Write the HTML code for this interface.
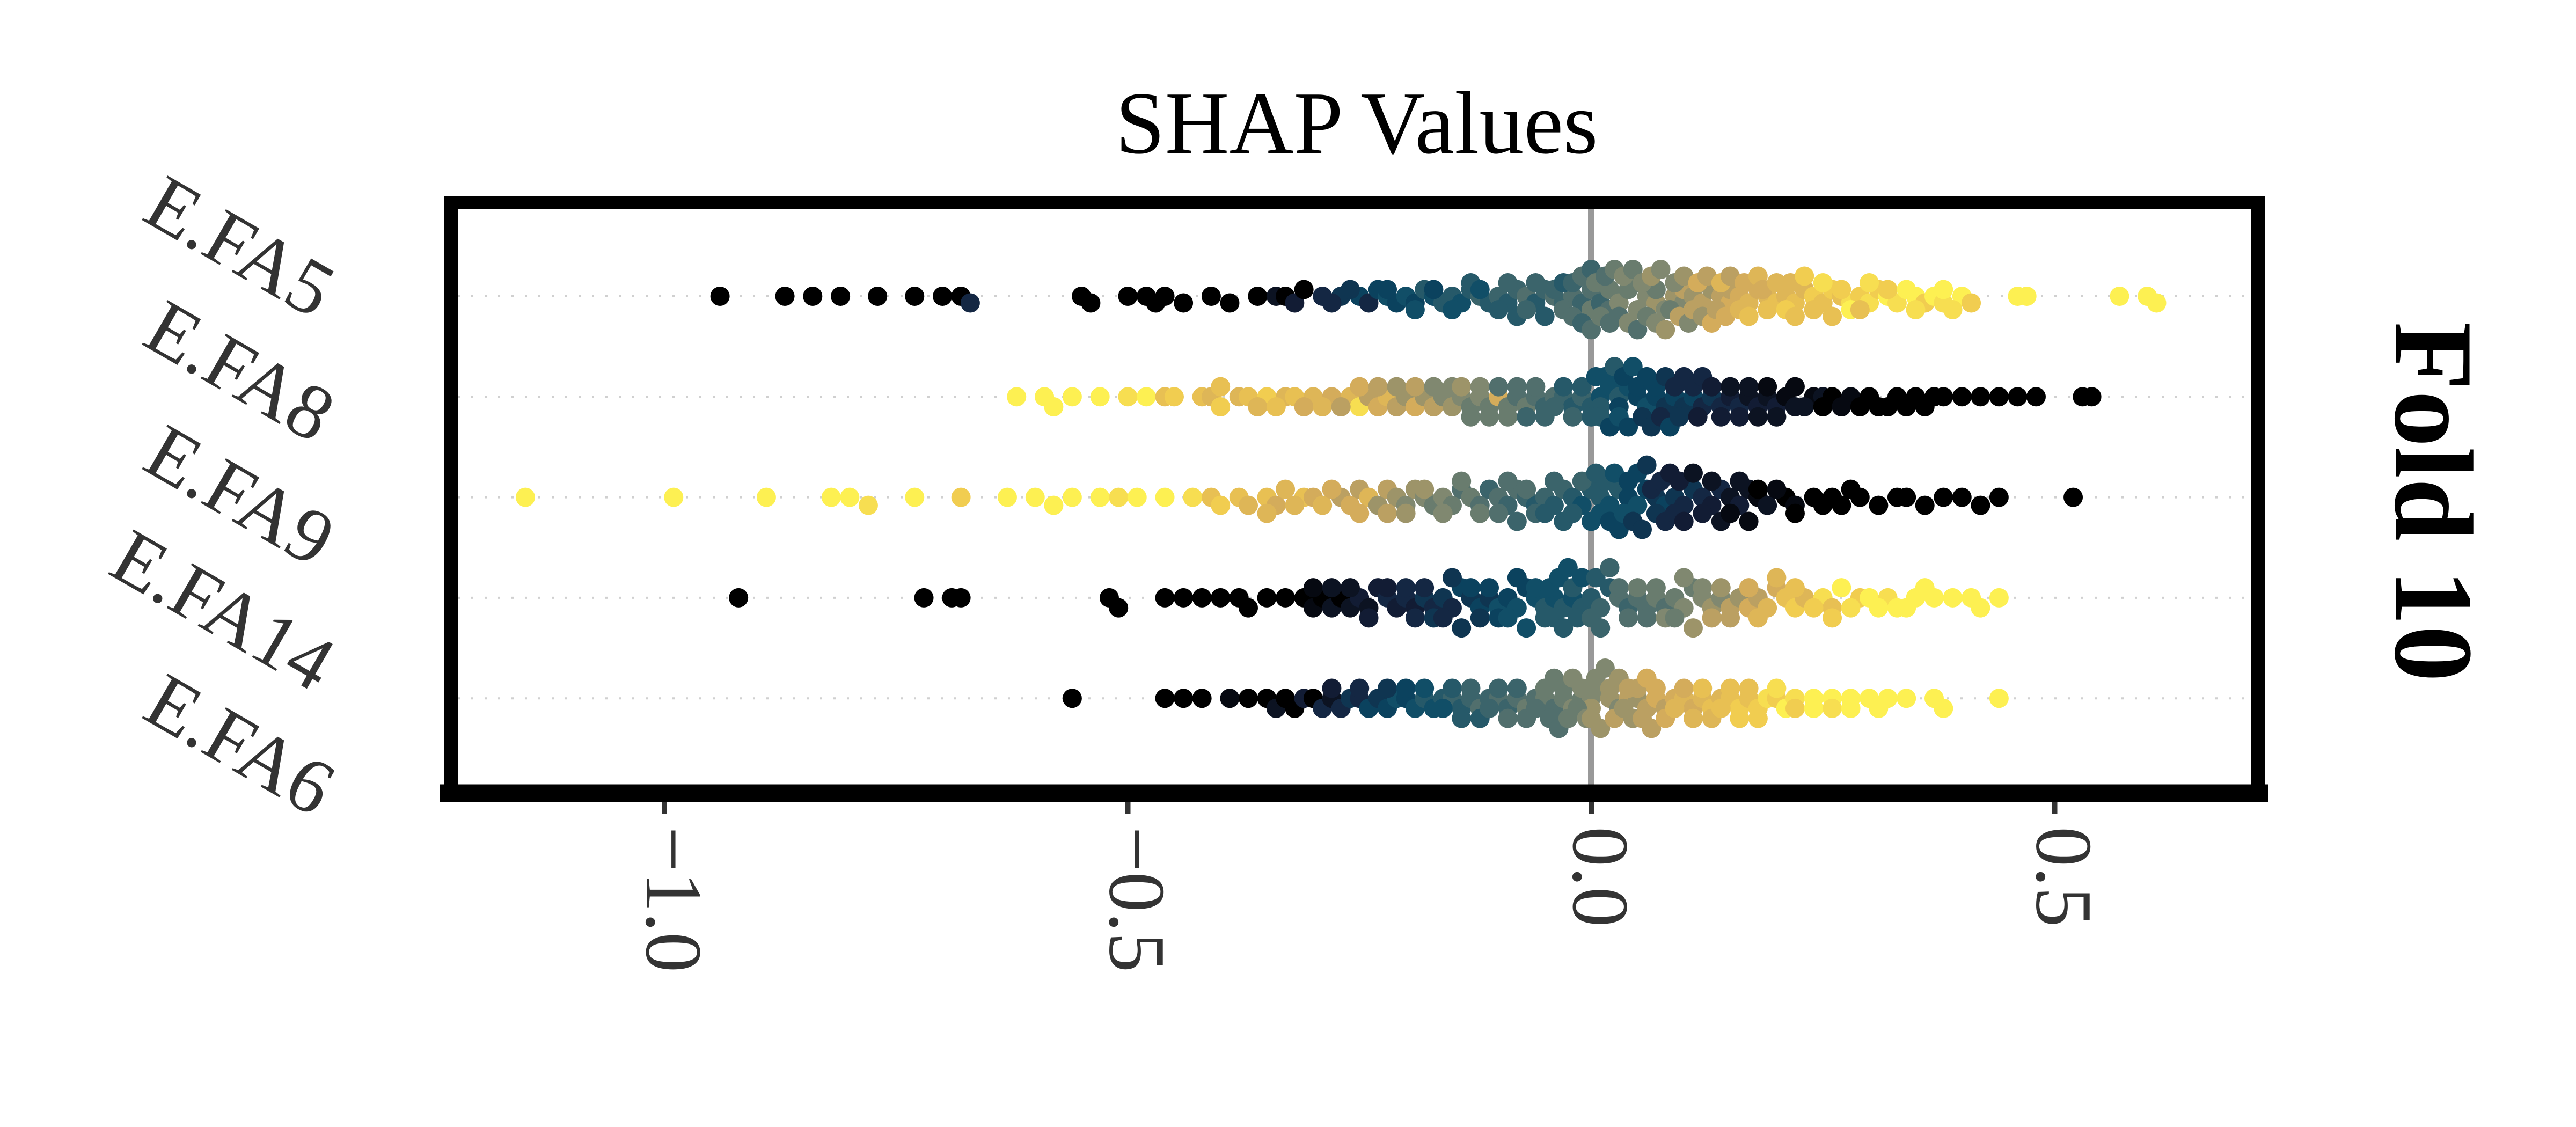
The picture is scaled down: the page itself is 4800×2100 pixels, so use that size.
<!DOCTYPE html>
<html><head><meta charset="utf-8"><style>
html,body{margin:0;padding:0;background:#fff;}
svg{display:block;}
</style></head><body>
<svg id="chart" xmlns="http://www.w3.org/2000/svg" width="4800" height="2100" viewBox="0 0 4800 2100">
<rect width="4800" height="2100" fill="#fff"/>
<g id="grid"></g>
<line x1="2965" y1="390" x2="2965" y2="1462" stroke="#999" stroke-width="12"/>
<g id="points"></g>
<g id="frame">
<rect x="840.5" y="377.5" width="3367" height="1100" fill="none" stroke="#000" stroke-width="25"/>
<line x1="820" y1="1478" x2="4227" y2="1478" stroke="#000" stroke-width="33"/>
</g>
<g id="xaxis"></g>
<g id="ylabels"></g>
<text x="2528" y="285" text-anchor="middle" font-family="Liberation Serif, serif" font-size="166" fill="#000">SHAP Values</text>
<text x="4464" y="935" text-anchor="middle" transform="rotate(90 4464 935)" font-family="Liberation Serif, serif" font-weight="bold" font-size="210" fill="#000">Fold 10</text>
</svg>
<script>
const features = ["E.FA5","E.FA8","E.FA9","E.FA14","E.FA6"];
const xTicks = [-1.0,-0.5,0.0,0.5];
const xTickLabels = ["\u22121.0","\u22120.5","0.0","0.5"];
// pairs: [shap value, feature value (0..1)]
const fa5 = [-0.94,0,-0.87,0,-0.84,0,-0.81,0,-0.77,0,-0.73,0,-0.70,0,-0.68,0,-0.67,.2,-0.55,0,-0.54,0,-0.50,0,-0.48,0,-0.47,0,-0.46,0,-0.44,0,-0.41,0,-0.39,0,-0.36,0,-0.34,.1,-0.33,0,-0.32,.15,-0.31,0,-0.29,.2,-0.27,.25,-0.25,.3,-0.24,.2,-0.23,.3,-0.22,.35,-0.21,.3,-0.20,.35,-0.19,.3,-0.18,.4,-0.17,.35,-0.16,.4,-0.15,.4,-0.14,.35,-0.13,.4,-0.12,.45,-0.11,.4,-0.10,.45,-0.09,.4,-0.08,.45,-0.07,.5,-0.06,.4,-0.05,.45,-0.04,.5,-0.03,.45,-0.02,.5,-0.01,.45,0,.5,0,.55,0.01,.5,0.01,.45,0.02,.55,0.02,.5,0.03,.55,0.03,.6,0.04,.55,0.05,.6,0.05,.55,0.06,.6,0.07,.65,0.07,.55,0.08,.6,0.09,.65,0.10,.6,0.10,.7,0.11,.65,0.12,.7,0.13,.65,0.14,.7,0.15,.75,0.15,.7,0.16,.75,0.17,.8,0.18,.75,0.19,.8,0.20,.85,0.21,.8,0.22,.85,0.23,.8,0.24,.9,0.25,.85,0.26,.9,0.27,.85,0.28,.95,0.29,.9,0.30,.95,0.31,.9,0.32,1,0.33,.95,0.35,1,0.36,.9,0.37,1,0.38,.95,0.40,1,0.41,.9,0.46,1,0.47,1,0.57,1,0.60,1,0.61,1];
const fa5core = [-0.28,.2,-0.26,.25,-0.22,.3,-0.19,.35,-0.17,.3,-0.15,.35,-0.13,.4,-0.12,.35,-0.10,.4,-0.09,.45,-0.08,.4,-0.07,.45,-0.06,.45,-0.05,.4,-0.04,.45,-0.03,.5,-0.03,.4,-0.02,.45,-0.02,.5,-0.01,.5,-0.01,.45,0,.45,0,.5,0.005,.55,0.01,.55,0.015,.5,0.02,.5,0.025,.55,0.03,.5,0.035,.6,0.04,.6,0.045,.55,0.05,.5,0.055,.6,0.06,.55,0.065,.65,0.07,.6,0.075,.6,0.08,.65,0.085,.55,0.09,.6,0.095,.7,0.10,.65,0.105,.6,0.11,.7,0.115,.75,0.12,.65,0.125,.7,0.13,.75,0.135,.7,0.14,.8,0.145,.75,0.15,.7,0.16,.8,0.165,.75,0.17,.85,0.18,.8,0.185,.75,0.19,.85,0.2,.8,0.21,.9,0.215,.8,0.22,.85,0.23,.9,0.24,.85,0.25,.95,0.26,.85,0.27,.9,0.28,1,0.29,.85,0.30,.95,0.32,.9,0.34,1,0.35,.95,0.38,1,0.39,.95];
const fa8 = [-0.62,1,-0.59,1,-0.58,1,-0.56,1,-0.53,1,-0.50,.95,-0.48,1,-0.46,.85,-0.42,.85,-0.41,.8,-0.40,.9,-0.38,.8,-0.37,.85,-0.35,.9,-0.33,.8,-0.32,.85,-0.30,.8,-0.28,.75,-0.26,.8,-0.25,.95,-0.24,.7,-0.23,.75,-0.22,.8,-0.21,.7,-0.20,.65,-0.19,.75,-0.18,.65,-0.17,.7,-0.16,.6,-0.15,.65,-0.14,.6,-0.13,.55,-0.12,.6,-0.11,.55,-0.10,.75,-0.09,.55,-0.08,.5,-0.07,.55,-0.06,.5,-0.05,.45,-0.04,.5,-0.03,.45,-0.02,.4,-0.01,.45,0,.4,0.01,.35,0.01,.4,0.02,.35,0.03,.4,0.03,.3,0.04,.35,0.05,.3,0.06,.35,0.07,.3,0.08,.25,0.09,.3,0.10,.25,0.11,.3,0.12,.2,0.13,.25,0.14,.2,0.15,.15,0.16,.2,0.17,.1,0.18,.15,0.19,.1,0.20,.15,0.21,.05,0.22,.1,0.24,.05,0.25,.1,0.26,0,0.28,.05,0.30,0,0.31,0,0.33,0,0.35,0,0.37,0,0.38,0,0.40,0,0.42,0,0.44,0,0.46,0,0.48,0,0.53,0,0.54,0];
const fa8core = [-0.45,.9,-0.40,.85,-0.36,.8,-0.34,.85,-0.31,.75,-0.29,.8,-0.27,.7,-0.25,.75,-0.23,.7,-0.21,.65,-0.19,.7,-0.17,.6,-0.15,.6,-0.14,.65,-0.13,.55,-0.12,.6,-0.11,.55,-0.10,.5,-0.09,.55,-0.08,.5,-0.07,.45,-0.06,.5,-0.05,.45,-0.04,.45,-0.03,.4,-0.02,.45,-0.01,.4,0,.4,0.005,.35,0.01,.4,0.015,.35,0.02,.3,0.025,.4,0.03,.35,0.035,.3,0.04,.3,0.045,.35,0.05,.3,0.055,.25,0.06,.3,0.065,.25,0.07,.3,0.075,.2,0.08,.25,0.085,.3,0.09,.2,0.095,.25,0.10,.2,0.11,.2,0.115,.15,0.12,.2,0.13,.15,0.14,.15,0.15,.1,0.16,.15,0.17,.1,0.18,.1,0.19,.05,0.20,.1,0.22,.05,0.23,.1,0.25,0,0.27,.05,0.29,0,0.32,0,0.34,0,0.36,0];
const fa9 = [-1.15,1,-0.99,1,-0.89,1,-0.82,1,-0.80,1,-0.78,.95,-0.73,1,-0.68,.9,-0.63,1,-0.60,1,-0.58,1,-0.56,1,-0.53,1,-0.51,.95,-0.49,1,-0.46,1,-0.43,.95,-0.41,.85,-0.40,.9,-0.38,.85,-0.37,.8,-0.35,.85,-0.34,.75,-0.33,.8,-0.31,.85,-0.30,.75,-0.29,.8,-0.27,.7,-0.26,.75,-0.25,.7,-0.24,.8,-0.23,.65,-0.22,.7,-0.21,.65,-0.20,.6,-0.19,.65,-0.18,.6,-0.17,.55,-0.16,.6,-0.15,.55,-0.14,.5,-0.13,.55,-0.12,.5,-0.11,.45,-0.10,.5,-0.09,.45,-0.08,.5,-0.07,.45,-0.06,.4,-0.05,.45,-0.04,.4,-0.03,.45,-0.02,.4,-0.01,.35,0,.4,0.01,.4,0.02,.35,0.03,.4,0.04,.3,0.05,.35,0.06,.3,0.07,.25,0.08,.3,0.09,.25,0.10,.2,0.11,.25,0.12,.2,0.13,.15,0.14,.2,0.15,.1,0.16,.15,0.17,.1,0.18,.05,0.19,.1,0.21,0,0.22,.05,0.24,0,0.26,0,0.27,0,0.29,0,0.31,0,0.33,0,0.34,0,0.36,0,0.38,0,0.40,0,0.42,0,0.44,0,0.52,0];
const fa9core = [-0.35,.8,-0.32,.8,-0.28,.75,-0.25,.75,-0.22,.7,-0.20,.65,-0.18,.65,-0.16,.6,-0.14,.55,-0.12,.55,-0.10,.5,-0.09,.5,-0.08,.45,-0.07,.5,-0.06,.45,-0.05,.4,-0.04,.45,-0.03,.4,-0.02,.4,-0.01,.45,0,.35,0.005,.4,0.01,.35,0.015,.4,0.02,.3,0.025,.35,0.03,.3,0.035,.35,0.04,.3,0.045,.25,0.05,.3,0.055,.25,0.06,.25,0.065,.2,0.07,.25,0.075,.2,0.08,.2,0.085,.15,0.09,.2,0.095,.15,0.10,.15,0.11,.1,0.12,.15,0.13,.1,0.14,.1,0.15,.05,0.16,.1,0.17,.05,0.18,0,0.20,.05,0.22,0,0.25,0,0.28,0];
const fa14 = [-0.92,0,-0.72,0,-0.69,0,-0.68,0,-0.52,0,-0.51,0,-0.46,0,-0.44,0,-0.42,0,-0.40,0,-0.38,0,-0.37,0,-0.35,0,-0.33,0,-0.31,0,-0.30,.05,-0.29,0,-0.28,.1,-0.27,0,-0.26,.1,-0.25,.15,-0.24,.1,-0.23,.15,-0.22,.2,-0.21,.15,-0.20,.2,-0.19,.15,-0.18,.25,-0.17,.2,-0.16,.25,-0.15,.2,-0.14,.3,-0.13,.25,-0.12,.3,-0.11,.25,-0.10,.35,-0.09,.3,-0.08,.35,-0.07,.3,-0.06,.35,-0.05,.4,-0.04,.35,-0.03,.4,-0.02,.35,-0.01,.4,0,.4,0.01,.45,0.02,.4,0.03,.5,0.04,.45,0.05,.5,0.06,.5,0.07,.55,0.08,.5,0.09,.55,0.10,.6,0.11,.55,0.12,.6,0.13,.65,0.14,.6,0.15,.7,0.16,.65,0.17,.75,0.18,.7,0.19,.8,0.20,.75,0.21,.85,0.22,.9,0.23,.8,0.25,.95,0.26,.85,0.27,1,0.29,.9,0.30,1,0.32,.95,0.33,1,0.35,1,0.37,1,0.39,1,0.41,1,0.42,1,0.44,1];
const fa14core = [-0.30,.05,-0.28,.1,-0.26,.1,-0.24,.15,-0.22,.15,-0.20,.2,-0.19,.2,-0.18,.2,-0.17,.25,-0.16,.2,-0.15,.25,-0.14,.25,-0.13,.3,-0.12,.25,-0.11,.3,-0.10,.3,-0.09,.35,-0.08,.3,-0.07,.35,-0.06,.35,-0.05,.4,-0.045,.35,-0.04,.4,-0.035,.35,-0.03,.4,-0.025,.35,-0.02,.4,-0.015,.4,-0.01,.35,0,.45,0.005,.4,0.01,.45,0.02,.45,0.03,.5,0.04,.5,0.05,.55,0.06,.5,0.07,.55,0.08,.6,0.09,.55,0.10,.6,0.11,.65,0.12,.6,0.13,.7,0.14,.65,0.15,.7,0.17,.75,0.18,.8,0.20,.8,0.22,.85,0.24,.9,0.26,.9,0.28,.95,0.31,1,0.34,1,0.36,1];
const fa6 = [-0.56,0,-0.46,0,-0.44,0,-0.42,0,-0.39,.05,-0.37,0,-0.35,0,-0.34,.1,-0.33,0,-0.32,0,-0.31,.15,-0.30,0,-0.29,.2,-0.28,.1,-0.27,.2,-0.26,.25,-0.25,.2,-0.24,.3,-0.23,.25,-0.22,.3,-0.21,.35,-0.20,.3,-0.19,.35,-0.18,.4,-0.17,.35,-0.16,.4,-0.15,.45,-0.14,.4,-0.13,.45,-0.12,.5,-0.11,.45,-0.10,.5,-0.09,.45,-0.08,.5,-0.07,.55,-0.06,.5,-0.05,.55,-0.04,.5,-0.03,.55,-0.02,.6,-0.01,.55,0,.6,0,.65,0.01,.6,0.02,.65,0.03,.6,0.04,.7,0.05,.65,0.06,.7,0.07,.75,0.08,.7,0.09,.75,0.10,.8,0.11,.75,0.12,.8,0.13,.85,0.14,.8,0.15,.85,0.16,.9,0.17,.85,0.18,.9,0.19,.95,0.20,.9,0.21,1,0.22,.95,0.24,1,0.26,1,0.28,1,0.30,1,0.32,1,0.34,1,0.37,1,0.38,1,0.44,1];
const fa6core = [-0.28,.15,-0.25,.2,-0.22,.25,-0.20,.3,-0.18,.35,-0.16,.35,-0.15,.4,-0.14,.4,-0.13,.45,-0.12,.4,-0.11,.45,-0.10,.45,-0.09,.5,-0.08,.45,-0.07,.5,-0.06,.5,-0.05,.55,-0.045,.5,-0.04,.55,-0.035,.5,-0.03,.55,-0.025,.55,-0.02,.6,-0.015,.55,-0.01,.6,-0.005,.6,0,.65,0.005,.6,0.01,.65,0.015,.6,0.02,.65,0.025,.7,0.03,.65,0.035,.65,0.04,.7,0.045,.65,0.05,.7,0.055,.7,0.06,.75,0.065,.7,0.07,.75,0.08,.75,0.09,.8,0.10,.75,0.11,.8,0.12,.85,0.13,.8,0.14,.85,0.15,.85,0.16,.9,0.17,.85,0.18,.9,0.20,.95,0.22,.9,0.24,1,0.26,.95,0.28,1,0.31,1];
const seriesList = [fa5.concat(fa5core), fa8.concat(fa8core), fa9.concat(fa9core), fa14.concat(fa14core), fa6.concat(fa6core)];

const NS = "http://www.w3.org/2000/svg";
const X0 = 2965, XS = 1727;
const xScale = v => X0 + XS * v;
const ROW0 = 552, ROWH = 187.3;
const yScale = i => ROW0 + ROWH * i;
const stops = [[0,[0,0,0]],[0.18,[22,34,62]],[0.33,[8,74,102]],[0.48,[72,106,108]],[0.6,[128,136,112]],[0.74,[210,170,92]],[0.88,[238,198,80]],[1,[253,240,82]]];
function cmap(t){
  for(let i=1;i<stops.length;i++){
    if(t<=stops[i][0]){
      const a=stops[i-1],b=stops[i];const f=(t-a[0])/(b[0]-a[0]);
      const c=a[1].map((v,k)=>Math.round(v+(b[1][k]-v)*f));
      return "rgb("+c.join(",")+")";
    }
  }
  return "rgb(253,240,82)";
}
function mk(tag, attrs){const e=document.createElementNS(NS,tag);for(const k in attrs)e.setAttribute(k,attrs[k]);return e;}

const grid=document.getElementById('grid');
const pts=document.getElementById('points');
const xaxis=document.getElementById('xaxis');
const ylab=document.getElementById('ylabels');

features.forEach((name,i)=>{
  const y=yScale(i);
  const gl=mk('line',{x1:853,y1:y,x2:4196,y2:y,stroke:'#d0d0d0','stroke-width':4,'stroke-dasharray':'4 21'});
  
  
  grid.appendChild(gl);

  const arr=seriesList[i];
  const sh=[],fv=[];
  for(let k=0;k<arr.length;k+=2){sh.push(arr[k]);fv.push(arr[k+1]);}
  const mn=Math.min(...sh),mx=Math.max(...sh),nb=60;
  const q=sh.map(v=>Math.round(nb*(v-mn)/(mx-mn+1e-8)));
  const inds=sh.map((_,k)=>k).sort((a,b)=>q[a]-q[b]||a-b);
  const ys=new Array(sh.length).fill(0);
  let layer=0,last=-1;
  inds.forEach(ind=>{
    if(q[ind]!==last)layer=0;
    ys[ind]=Math.ceil(layer/2)*((layer%2)*2-1);
    layer++;last=q[ind];
  });
  const m=Math.max(...ys.map(v=>Math.abs(v)+1));
  const sc=Math.min(20,1.0*(0.4*ROWH)/m);
  const g=mk('g',{});
  
  
  sh.forEach((v,k)=>{
    const c=mk('circle',{cx:xScale(v),cy:y+ys[k]*sc,r:18,fill:cmap(fv[k])});
    
    
    g.appendChild(c);
  });
  pts.appendChild(g);

  const ly=595+232*i;
  const t=mk('text',{x:585,y:ly,'text-anchor':'end',transform:'rotate(30 585 '+ly+')','font-family':'Liberation Serif, serif','font-size':146,fill:'#333'});
  t.textContent=name;
  
  
  ylab.appendChild(t);
});

xTicks.forEach((v,i)=>{
  const x=xScale(v);
  const tk=mk('line',{x1:x,y1:1494,x2:x,y2:1516,stroke:'#333','stroke-width':10});
  
  
  xaxis.appendChild(tk);
  const bx=x-33;
  const t=mk('text',{x:bx,y:1540,'text-anchor':'start',transform:'rotate(90 '+bx+' 1540)','font-family':'Liberation Serif, serif','font-size':150,fill:'#333'});
  t.textContent=xTickLabels[i];
  
  
  xaxis.appendChild(t);
});
</script>
</body></html>
